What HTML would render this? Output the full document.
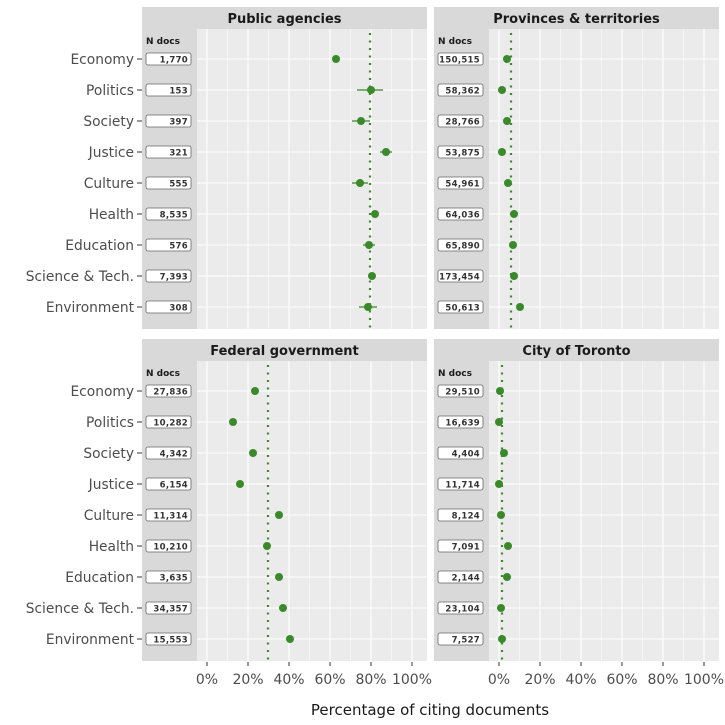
<!DOCTYPE html>
<html><head><meta charset="utf-8"><style>
html,body{margin:0;padding:0;background:#fff}
svg{display:block;font-family:"DejaVu Sans","Liberation Sans",sans-serif}
.bg{fill:#ebebeb}.la{fill:#d9d9d9}.st{fill:#d9d9d9}
.gM{stroke:#fff;stroke-width:1.1}.gm{stroke:#fff;stroke-width:0.5}
.dl{stroke:#3a8a2c;stroke-width:2.2;stroke-dasharray:2 5.5}
.pt{fill:#3a8a2c}.eb{stroke:#3a8a2c;stroke-width:1.3}
.bx{fill:#fff;stroke:#666;stroke-width:0.8}
.bt{font-size:8.5px;font-weight:bold;fill:#333;text-anchor:end;letter-spacing:0.3px}
.nd{font-size:9px;font-weight:bold;fill:#1a1a1a}
.sx{font-size:13px;font-weight:bold;fill:#1a1a1a;text-anchor:middle}
.yl{font-size:13.8px;fill:#4d4d4d;text-anchor:end}
.xl{font-size:14px;fill:#4d4d4d;text-anchor:middle}
.tk{stroke:#333;stroke-width:1}
</style></head><body>
<svg width="725" height="725" viewBox="0 0 725 725">
<defs>
<g id="grid">
<rect class="bg" x="0" y="0" width="285" height="300"/>
<line class="gm" x1="85.5" y1="0" x2="85.5" y2="300"/><line class="gm" x1="126.5" y1="0" x2="126.5" y2="300"/><line class="gm" x1="167.5" y1="0" x2="167.5" y2="300"/><line class="gm" x1="208.5" y1="0" x2="208.5" y2="300"/><line class="gm" x1="249.5" y1="0" x2="249.5" y2="300"/>
<line class="gM" x1="65" y1="0" x2="65" y2="300"/><line class="gM" x1="106" y1="0" x2="106" y2="300"/><line class="gM" x1="147" y1="0" x2="147" y2="300"/><line class="gM" x1="188" y1="0" x2="188" y2="300"/><line class="gM" x1="229" y1="0" x2="229" y2="300"/><line class="gM" x1="270" y1="0" x2="270" y2="300"/>
<line class="gM" x1="0" y1="30" x2="285" y2="30"/><line class="gM" x1="0" y1="61" x2="285" y2="61"/><line class="gM" x1="0" y1="92" x2="285" y2="92"/><line class="gM" x1="0" y1="123" x2="285" y2="123"/><line class="gM" x1="0" y1="154" x2="285" y2="154"/><line class="gM" x1="0" y1="185" x2="285" y2="185"/><line class="gM" x1="0" y1="216" x2="285" y2="216"/><line class="gM" x1="0" y1="247" x2="285" y2="247"/><line class="gM" x1="0" y1="278" x2="285" y2="278"/>
<rect class="la" x="0" y="0" width="55" height="300"/>
<text class="nd" x="4" y="15">N docs</text>
<rect class="bx" x="4" y="24" width="45" height="12" rx="2"/><rect class="bx" x="4" y="55" width="45" height="12" rx="2"/><rect class="bx" x="4" y="86" width="45" height="12" rx="2"/><rect class="bx" x="4" y="117" width="45" height="12" rx="2"/><rect class="bx" x="4" y="148" width="45" height="12" rx="2"/><rect class="bx" x="4" y="179" width="45" height="12" rx="2"/><rect class="bx" x="4" y="210" width="45" height="12" rx="2"/><rect class="bx" x="4" y="241" width="45" height="12" rx="2"/><rect class="bx" x="4" y="272" width="45" height="12" rx="2"/>
</g>
<g id="ylab">
<text class="yl" x="134" y="35">Economy</text><text class="yl" x="134" y="66">Politics</text><text class="yl" x="134" y="97">Society</text><text class="yl" x="134" y="128">Justice</text><text class="yl" x="134" y="159">Culture</text><text class="yl" x="134" y="190">Health</text><text class="yl" x="134" y="221">Education</text><text class="yl" x="134" y="252">Science &amp; Tech.</text><text class="yl" x="134" y="283">Environment</text>
<line class="tk" x1="137" y1="30" x2="142" y2="30"/><line class="tk" x1="137" y1="61" x2="142" y2="61"/><line class="tk" x1="137" y1="92" x2="142" y2="92"/><line class="tk" x1="137" y1="123" x2="142" y2="123"/><line class="tk" x1="137" y1="154" x2="142" y2="154"/><line class="tk" x1="137" y1="185" x2="142" y2="185"/><line class="tk" x1="137" y1="216" x2="142" y2="216"/><line class="tk" x1="137" y1="247" x2="142" y2="247"/><line class="tk" x1="137" y1="278" x2="142" y2="278"/>
</g>
</defs>

<rect class="st" x="142" y="7" width="285" height="22"/><text class="sx" x="284.5" y="23">Public agencies</text>
<rect class="st" x="434" y="7" width="285" height="22"/><text class="sx" x="576.5" y="23">Provinces &amp; territories</text>
<rect class="st" x="142" y="339" width="285" height="23"/><text class="sx" x="284.5" y="355">Federal government</text>
<rect class="st" x="434" y="339" width="285" height="23"/><text class="sx" x="576.5" y="355">City of Toronto</text>

<use href="#ylab" x="0" y="29"/>
<use href="#ylab" x="0" y="361"/>

<g transform="translate(142,29)">
<use href="#grid"/>
<text class="bt" x="46" y="33.5">1,770</text><text class="bt" x="46" y="64.5">153</text><text class="bt" x="46" y="95.5">397</text><text class="bt" x="46" y="126.5">321</text><text class="bt" x="46" y="157.5">555</text><text class="bt" x="46" y="188.5">8,535</text><text class="bt" x="46" y="219.5">576</text><text class="bt" x="46" y="250.5">7,393</text><text class="bt" x="46" y="281.5">308</text>
<line class="dl" x1="228" y1="4" x2="228" y2="302"/>
<line class="eb" x1="190" y1="30" x2="198" y2="30"/>
<line class="eb" x1="215" y1="61" x2="241" y2="61"/>
<line class="eb" x1="210" y1="92" x2="228" y2="92"/>
<line class="eb" x1="238" y1="123" x2="250" y2="123"/>
<line class="eb" x1="210" y1="154" x2="226" y2="154"/>
<line class="eb" x1="221" y1="216" x2="233" y2="216"/>
<line class="eb" x1="217" y1="278" x2="235" y2="278"/>
<circle class="pt" cx="194" cy="30" r="4"/><circle class="pt" cx="229" cy="61" r="4"/><circle class="pt" cx="219" cy="92" r="4"/><circle class="pt" cx="244" cy="123" r="4"/><circle class="pt" cx="218" cy="154" r="4"/><circle class="pt" cx="233" cy="185" r="4"/><circle class="pt" cx="227" cy="216" r="4"/><circle class="pt" cx="230" cy="247" r="4"/><circle class="pt" cx="226" cy="278" r="4"/>
</g>
<g transform="translate(434,29)">
<use href="#grid"/>
<text class="bt" x="46" y="33.5">150,515</text><text class="bt" x="46" y="64.5">58,362</text><text class="bt" x="46" y="95.5">28,766</text><text class="bt" x="46" y="126.5">53,875</text><text class="bt" x="46" y="157.5">54,961</text><text class="bt" x="46" y="188.5">64,036</text><text class="bt" x="46" y="219.5">65,890</text><text class="bt" x="46" y="250.5">173,454</text><text class="bt" x="46" y="281.5">50,613</text>
<line class="dl" x1="77" y1="4" x2="77" y2="302"/>
<circle class="pt" cx="73" cy="30" r="4"/><circle class="pt" cx="68" cy="61" r="4"/><circle class="pt" cx="73" cy="92" r="4"/><circle class="pt" cx="68" cy="123" r="4"/><circle class="pt" cx="74" cy="154" r="4"/><circle class="pt" cx="80" cy="185" r="4"/><circle class="pt" cx="79" cy="216" r="4"/><circle class="pt" cx="80" cy="247" r="4"/><circle class="pt" cx="86" cy="278" r="4"/>
</g>
<g transform="translate(142,361)">
<use href="#grid"/>
<text class="bt" x="46" y="33.5">27,836</text><text class="bt" x="46" y="64.5">10,282</text><text class="bt" x="46" y="95.5">4,342</text><text class="bt" x="46" y="126.5">6,154</text><text class="bt" x="46" y="157.5">11,314</text><text class="bt" x="46" y="188.5">10,210</text><text class="bt" x="46" y="219.5">3,635</text><text class="bt" x="46" y="250.5">34,357</text><text class="bt" x="46" y="281.5">15,553</text>
<line class="dl" x1="126" y1="4" x2="126" y2="302"/>
<circle class="pt" cx="113" cy="30" r="4"/><circle class="pt" cx="91" cy="61" r="4"/><circle class="pt" cx="111" cy="92" r="4"/><circle class="pt" cx="98" cy="123" r="4"/><circle class="pt" cx="137" cy="154" r="4"/><circle class="pt" cx="125" cy="185" r="4"/><circle class="pt" cx="137" cy="216" r="4"/><circle class="pt" cx="141" cy="247" r="4"/><circle class="pt" cx="148" cy="278" r="4"/>
</g>
<g transform="translate(434,361)">
<use href="#grid"/>
<text class="bt" x="46" y="33.5">29,510</text><text class="bt" x="46" y="64.5">16,639</text><text class="bt" x="46" y="95.5">4,404</text><text class="bt" x="46" y="126.5">11,714</text><text class="bt" x="46" y="157.5">8,124</text><text class="bt" x="46" y="188.5">7,091</text><text class="bt" x="46" y="219.5">2,144</text><text class="bt" x="46" y="250.5">23,104</text><text class="bt" x="46" y="281.5">7,527</text>
<line class="dl" x1="68" y1="4" x2="68" y2="302"/>
<circle class="pt" cx="66" cy="30" r="4"/><circle class="pt" cx="65" cy="61" r="4"/><circle class="pt" cx="70" cy="92" r="4"/><circle class="pt" cx="65" cy="123" r="4"/><circle class="pt" cx="67" cy="154" r="4"/><circle class="pt" cx="74" cy="185" r="4"/><circle class="pt" cx="73" cy="216" r="4"/><circle class="pt" cx="67" cy="247" r="4"/><circle class="pt" cx="68" cy="278" r="4"/>
</g>

<g>
<line class="tk" x1="207" y1="662" x2="207" y2="666"/><line class="tk" x1="248" y1="662" x2="248" y2="666"/><line class="tk" x1="289" y1="662" x2="289" y2="666"/><line class="tk" x1="330" y1="662" x2="330" y2="666"/><line class="tk" x1="371" y1="662" x2="371" y2="666"/><line class="tk" x1="412" y1="662" x2="412" y2="666"/>
<line class="tk" x1="499" y1="662" x2="499" y2="666"/><line class="tk" x1="540" y1="662" x2="540" y2="666"/><line class="tk" x1="581" y1="662" x2="581" y2="666"/><line class="tk" x1="622" y1="662" x2="622" y2="666"/><line class="tk" x1="663" y1="662" x2="663" y2="666"/><line class="tk" x1="704" y1="662" x2="704" y2="666"/>
<text class="xl" x="207" y="684">0%</text><text class="xl" x="248" y="684">20%</text><text class="xl" x="289" y="684">40%</text><text class="xl" x="330" y="684">60%</text><text class="xl" x="371" y="684">80%</text><text class="xl" x="412" y="684">100%</text>
<text class="xl" x="499" y="684">0%</text><text class="xl" x="540" y="684">20%</text><text class="xl" x="581" y="684">40%</text><text class="xl" x="622" y="684">60%</text><text class="xl" x="663" y="684">80%</text><text class="xl" x="704" y="684">100%</text>
</g>
<text x="430" y="715" style="font-size:15px;fill:#1a1a1a;text-anchor:middle">Percentage of citing documents</text>
</svg>
</body></html>
